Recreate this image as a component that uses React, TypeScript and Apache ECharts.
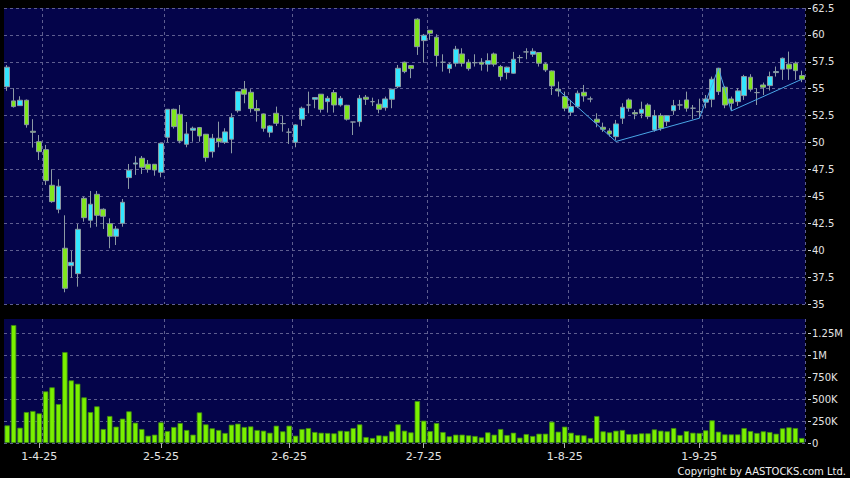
import React, { useEffect, useRef } from "react";
import * as echarts from "echarts";

// ---------- data ----------
const dates = [
  "25-3-25","26-3-25","27-3-25","28-3-25","31-3-25",
  "1-4-25","2-4-25","3-4-25","7-4-25","8-4-25","9-4-25","10-4-25","11-4-25","14-4-25","15-4-25","16-4-25","17-4-25","22-4-25","23-4-25","24-4-25","25-4-25","28-4-25","29-4-25","30-4-25",
  "2-5-25","6-5-25","7-5-25","8-5-25","9-5-25","12-5-25","13-5-25","14-5-25","15-5-25","16-5-25","19-5-25","20-5-25","21-5-25","22-5-25","23-5-25","26-5-25","27-5-25","28-5-25","29-5-25","30-5-25",
  "2-6-25","3-6-25","4-6-25","5-6-25","6-6-25","9-6-25","10-6-25","11-6-25","12-6-25","13-6-25","16-6-25","17-6-25","18-6-25","19-6-25","20-6-25","23-6-25","24-6-25","25-6-25","26-6-25","27-6-25","30-6-25",
  "2-7-25","3-7-25","4-7-25","7-7-25","8-7-25","9-7-25","10-7-25","11-7-25","14-7-25","15-7-25","16-7-25","17-7-25","18-7-25","21-7-25","22-7-25","23-7-25","24-7-25","25-7-25","28-7-25","29-7-25","30-7-25","31-7-25",
  "1-8-25","4-8-25","5-8-25","6-8-25","7-8-25","8-8-25","11-8-25","12-8-25","13-8-25","14-8-25","15-8-25","18-8-25","19-8-25","20-8-25","21-8-25","22-8-25","25-8-25","26-8-25","27-8-25","28-8-25","29-8-25",
  "1-9-25","2-9-25","3-9-25","4-9-25","5-9-25","8-9-25","9-9-25","10-9-25","11-9-25","12-9-25","15-9-25","16-9-25","17-9-25","18-9-25","19-9-25","22-9-25","23-9-25",
];

const tickDates = ["1-4-25", "2-5-25", "2-6-25", "2-7-25", "1-8-25", "1-9-25"];

const opens = [
  55.19,53.87,53.43,53.93,51.05,50.08,49.34,46.03,43.8,40.18,
  38.56,37.82,44.82,42.78,45.19,43.8,42.46,41.29,42.5,46.74,
  48.0,48.54,47.98,47.98,47.24,50.49,53.09,52.63,49.84,51.14,
  51.39,50.77,49.15,50.4,50.03,50.31,52.96,54.95,54.67,53.15,
  52.66,50.96,52.72,51.76,50.96,50.03,52.17,53.49,54.02,54.49,
  53.8,54.64,53.49,53.46,51.91,51.94,54.21,53.8,53.56,53.24,
  54.02,55.19,57.46,57.15,61.46,59.47,60.43,59.79,57.46,56.87,
  57.37,58.23,57.46,57.42,57.46,57.28,58.23,57.06,56.5,56.44,
  57.89,58.42,58.2,58.36,57.3,56.65,54.95,54.27,52.82,53.34,
  54.67,54.05,52.17,51.42,51.08,50.55,52.26,53.96,52.78,52.72,
  53.49,51.17,52.5,51.94,52.96,53.49,53.96,53.19,52.87,53.75,
  54.02,56.9,55.14,54.05,53.8,54.36,56.07,54.64,55.35,55.29,
  56.5,56.81,57.28,57.37,56.22,
];
const closes = [
  57.0,53.34,53.93,51.66,50.95,49.15,46.46,44.51,45.94,36.46,
  38.87,41.94,43.02,44.27,43.24,43.15,41.29,41.97,44.45,47.43,
  48.1,47.7,47.52,47.45,49.93,53.09,51.48,50.15,50.8,51.33,
  50.61,48.6,50.4,50.08,50.99,52.35,54.73,54.49,53.15,52.96,
  51.33,51.54,51.79,51.76,50.96,51.64,53.19,53.49,54.18,53.09,
  54.11,53.49,54.11,52.17,51.91,54.11,54.02,53.8,53.09,54.05,
  54.95,56.9,56.59,56.87,58.91,59.97,60.15,58.08,57.46,57.28,
  58.67,57.37,56.87,57.42,57.28,57.61,57.28,56.13,57.0,57.74,
  57.89,58.42,58.48,57.37,56.75,55.26,54.8,53.19,53.34,54.58,
  54.33,54.05,51.88,51.23,50.8,51.73,53.28,53.19,52.66,53.09,
  52.41,52.5,51.33,52.5,53.43,53.49,53.19,53.19,52.87,54.05,
  55.88,54.73,53.49,53.65,54.8,56.13,54.95,54.64,55.14,56.13,
  56.59,57.83,56.84,56.68,55.88,
];
const lows = [
  54.8,53.25,53.4,51.38,49.53,48.38,46.06,44.4,43.43,36.09,
  37.44,36.61,42.65,42.09,42.18,41.97,40.18,40.48,42.18,45.69,
  46.99,47.08,47.2,46.92,46.77,50.03,51.3,49.93,49.56,50.08,
  50.08,48.22,48.6,49.56,49.87,49.0,52.78,53.65,52.78,51.94,
  51.01,50.49,51.54,51.01,49.87,49.56,51.54,52.72,53.19,52.78,
  52.78,52.78,53.34,52.04,50.7,51.48,53.49,53.4,52.72,52.96,
  53.19,55.05,56.44,55.98,58.14,57.42,59.54,57.06,56.59,56.44,
  57.06,57.06,56.68,57.06,56.68,56.59,57.06,55.76,55.88,56.4,
  57.4,57.74,57.96,57.06,56.56,54.42,54.27,52.91,52.47,53.2,
  53.8,53.74,51.42,50.99,50.55,50.2,51.73,52.87,52.17,52.26,
  52.17,51.01,51.1,51.54,52.57,53.03,52.87,52.17,52.26,53.19,
  53.28,54.42,53.19,52.94,53.4,53.96,54.73,53.49,54.42,54.83,
  56.13,55.82,55.82,55.82,55.61,
];
const highs = [
  57.2,55.05,54.3,54.0,52.17,50.7,49.78,47.52,46.59,43.24,
  39.93,42.43,44.97,45.5,45.5,43.89,42.96,42.25,44.76,48.01,
  48.73,48.75,48.38,48.0,49.95,53.1,53.15,53.49,51.91,51.48,
  51.45,50.8,50.8,51.94,51.33,52.72,54.8,55.72,54.95,53.96,
  52.7,51.6,53.34,52.47,51.33,51.7,53.34,54.73,54.2,54.5,
  54.33,54.89,54.33,53.5,51.91,54.42,54.42,54.17,54.02,54.27,
  55.0,57.21,57.52,57.2,61.55,60.09,60.46,60.06,58.2,57.42,
  58.98,58.76,57.74,58.2,57.84,58.29,58.36,57.21,57.05,58.42,
  58.14,58.76,58.76,58.4,57.42,56.7,55.66,54.73,53.96,54.83,
  55.35,54.27,52.72,51.85,51.33,52.1,53.65,54.11,53.03,53.8,
  53.65,53.03,52.72,52.55,53.96,53.96,54.73,53.49,54.08,54.42,
  56.13,56.95,55.26,54.27,55.05,56.29,56.35,55.05,55.57,56.59,
  57.06,57.9,58.45,57.52,56.68,
];
const volumes = [
  200000,1341000,174000,352000,364000,337000,587000,633000,443000,1034000,
  712000,674000,519000,352000,417000,159000,307000,186000,277000,360000,
  231000,159000,83000,95000,235000,136000,182000,227000,148000,95000,
  348000,212000,167000,148000,114000,208000,220000,182000,189000,148000,
  140000,117000,197000,133000,197000,83000,159000,170000,125000,117000,
  114000,110000,140000,136000,170000,212000,68000,57000,87000,83000,
  133000,212000,140000,121000,477000,254000,136000,227000,125000,76000,
  95000,95000,87000,80000,64000,121000,95000,159000,91000,117000,
  61000,102000,80000,106000,106000,242000,129000,186000,117000,91000,
  87000,57000,307000,133000,121000,140000,148000,102000,102000,110000,
  110000,155000,140000,133000,170000,91000,136000,117000,114000,144000,
  258000,129000,98000,98000,98000,170000,136000,114000,133000,125000,
  106000,167000,178000,170000,57000,
];

// swing line (zig-zag) turning points
const zigzagDates = ["31-7-25", "13-8-25", "1-9-25", "4-9-25", "8-9-25", "23-9-25"];
const zigzagValues = [54.9, 50.1, 52.26, 56.9, 52.94, 55.88];

const volumeTicks = [0, 250000, 500000, 750000, 1000000, 1250000];

// ---------- styles ----------
const NAVY = "#04044a";
const GRID_LINE = "#5e5e90";
const LABEL = "#e4e4e4";
const UP = "#33e6ff";
const DOWN = "#80e61e";
const VOL = "#7af000";

const tickSet = new Set(tickDates);

function fmtVol(v: number): string {
  if (v === 0) return "0";
  if (v >= 1000000) return String(v / 1000000) + "M";
  return String(v / 1000) + "K";
}

export default function App() {
  const ref = useRef<HTMLDivElement>(null);
  useEffect(() => {
    if (!ref.current) return;
    const chart = echarts.init(ref.current, null, { renderer: "svg" });
    const candleData = dates.map((_, i) => [opens[i], closes[i], lows[i], highs[i]]);
    const zigzagData = zigzagDates.map((d, i) => [d, zigzagValues[i]]);
    const dashed = { color: GRID_LINE, type: [3, 3] as any, width: 1 };
    const labelFont = { color: LABEL, fontSize: 10, fontFamily: "DejaVu Sans" };

    const option: any = {
      animation: false,
      backgroundColor: "#000",
      grid: [
        { left: 4, right: 45, top: 8, height: 296, show: true, backgroundColor: NAVY, borderWidth: 0 },
        { left: 4, right: 45, top: 319, height: 124, show: true, backgroundColor: NAVY, borderWidth: 0 },
      ],
      xAxis: [
        {
          type: "category",
          gridIndex: 0,
          data: dates,
          boundaryGap: true,
          axisLine: { show: false },
          axisTick: { show: false },
          axisLabel: { show: false },
          splitLine: {
            show: true,
            interval: (idx: number) => idx > 0 && tickSet.has(dates[idx - 1]),
            lineStyle: dashed,
          },
        },
        {
          type: "category",
          gridIndex: 1,
          data: dates,
          boundaryGap: true,
          axisLine: { show: false },
          axisTick: {
            show: true,
            alignWithLabel: true,
            interval: (_: number, v: string) => tickSet.has(v),
            length: 5,
            lineStyle: { color: "#b0b0b0" },
          },
          axisLabel: {
            show: true,
            interval: (_: number, v: string) => tickSet.has(v),
            ...labelFont,
            fontSize: 11,
            margin: 8,
          },
          splitLine: {
            show: true,
            interval: (idx: number) => idx > 0 && tickSet.has(dates[idx - 1]),
            lineStyle: dashed,
          },
        },
      ],
      yAxis: [
        {
          type: "value",
          gridIndex: 0,
          position: "right",
          min: 35,
          max: 62.5,
          interval: 2.5,
          offset: 3,
          axisLine: { show: false },
          axisTick: { show: true, length: 3, lineStyle: { color: "#d0d0d0" } },
          axisLabel: { ...labelFont, margin: 4 },
          splitLine: { show: true, lineStyle: dashed },
        },
        {
          type: "value",
          gridIndex: 1,
          position: "right",
          min: 0,
          max: 1410000,
          offset: 3,
          axisLine: { show: false },
          axisTick: { show: true, length: 3, customValues: volumeTicks, lineStyle: { color: "#d0d0d0" } },
          axisLabel: { ...labelFont, margin: 4, customValues: volumeTicks, formatter: fmtVol },
          splitLine: { show: true, lineStyle: dashed },
        },
      ],
      series: [
        {
          type: "candlestick",
          xAxisIndex: 0,
          yAxisIndex: 0,
          data: candleData,
          barWidth: 5.2,
          itemStyle: {
            color: UP,
            color0: DOWN,
            borderColor: "#8c9aa4",
            borderColor0: "#8c9aa4",
            borderColorDoji: "#8c9aa4",
            borderWidth: 1,
          },
        },
        {
          type: "line",
          xAxisIndex: 0,
          yAxisIndex: 0,
          data: zigzagData,
          showSymbol: false,
          symbol: "none",
          lineStyle: { color: "#4aa6e6", width: 1 },
          z: 3,
        },
        {
          type: "bar",
          xAxisIndex: 1,
          yAxisIndex: 1,
          data: volumes,
          barWidth: 5.4,
          itemStyle: { color: VOL, borderColor: "#3f8a12", borderWidth: 0.8 },
        },
      ],
      graphic: [
        {
          type: "text",
          right: 4,
          bottom: 2,
          style: {
            text: "Copyright by AASTOCKS.com Ltd.",
            fill: "#f0f0f0",
            font: "10px 'DejaVu Sans'",
          },
        },
      ],
    };
    chart.setOption(option);
    return () => chart.dispose();
  }, []);
  return (
    <div
      ref={ref}
      style={{ position: "fixed", left: 0, top: 0, width: 850, height: 478 }}
    />
  );
}
